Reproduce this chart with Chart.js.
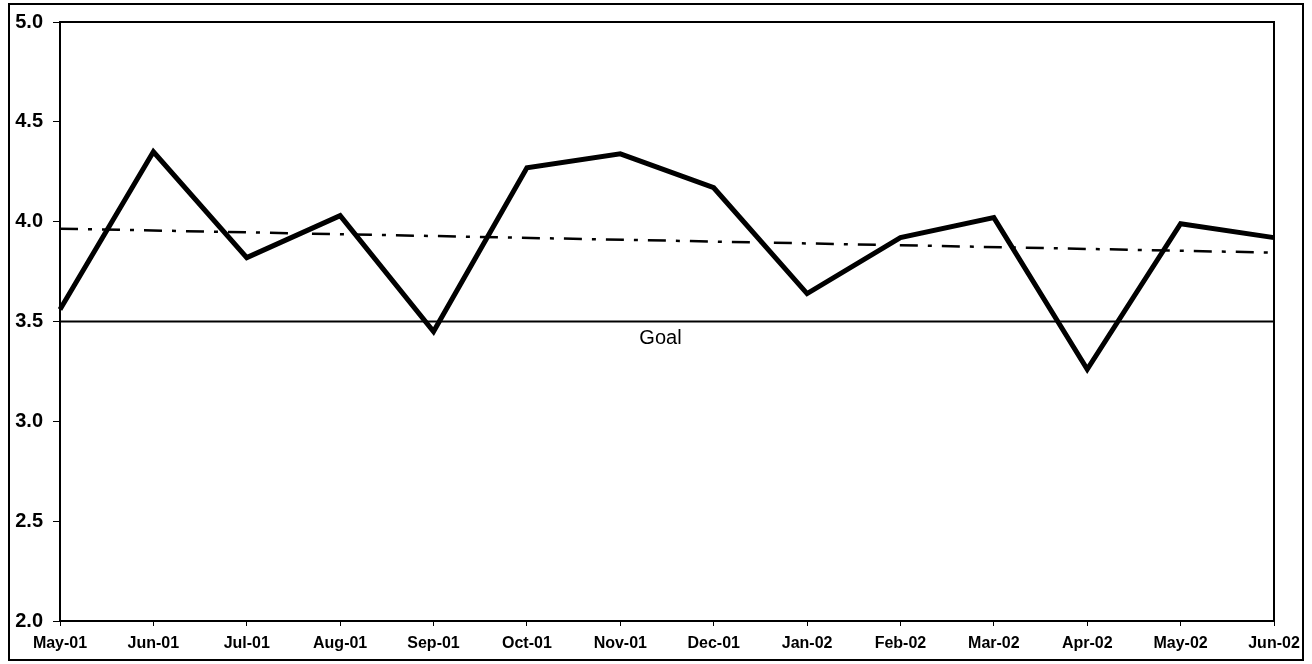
<!DOCTYPE html>
<html>
<head>
<meta charset="utf-8">
<script src="https://cdn.jsdelivr.net/npm/chart.js@4"></script>
<style>
  html, body { margin: 0; padding: 0; background: #fff; }
  canvas { display: block; }
</style>
</head>
<body>
<canvas id="goalChart" width="1312" height="664"></canvas>
<script>
// values
const months = ['May-01', 'Jun-01', 'Jul-01', 'Aug-01', 'Sep-01', 'Oct-01', 'Nov-01',
                'Dec-01', 'Jan-02', 'Feb-02', 'Mar-02', 'Apr-02', 'May-02', 'Jun-02'];
const scores = [3.56, 4.35, 3.82, 4.03, 3.45, 4.27, 4.34, 4.17, 3.64, 3.92, 4.02, 3.26, 3.99, 3.92];
// trend line: only its two ends are read, the rest is spanned
const trend = [3.965, null, null, null, null, null, null, null, null, null, null, null, null, 3.845];
const goal = [3.5, 3.5, 3.5, 3.5, 3.5, 3.5, 3.5, 3.5, 3.5, 3.5, 3.5, 3.5, 3.5, 3.5];
const yMin = 2.0;
const yMax = 5.0;
const yStep = 0.5;

const FONT = "'Liberation Sans', Arial, sans-serif";

const framePlugin = {
    id: 'frame',
    afterDraw(chart) {
        const { ctx, chartArea } = chart;
        ctx.save();
        ctx.strokeStyle = '#000';
        // plot area top and right edge
        ctx.lineWidth = 2;
        ctx.beginPath();
        ctx.moveTo(chartArea.left, chartArea.top);
        ctx.lineTo(chartArea.right, chartArea.top);
        ctx.lineTo(chartArea.right, chartArea.bottom);
        ctx.stroke();
        // outer frame of the picture
        ctx.strokeRect(9, 4, 1294, 656);

        // "Goal" caption under the goal line
        const x = chart.scales.x.getPixelForValue(6.43);
        const y = chart.scales.y.getPixelForValue(goal[0]);
        ctx.fillStyle = '#000';
        ctx.font = '20px ' + FONT;
        ctx.textAlign = 'center';
        ctx.textBaseline = 'middle';
        ctx.fillText('Goal', x, y + 17);
        ctx.restore();
    }
};

new Chart(document.getElementById('goalChart'), {
    type: 'line',
    data: {
        labels: months,
        datasets: [
            {
                label: 'Score',
                data: scores,
                borderColor: '#000',
                borderWidth: 5,
                borderJoinStyle: 'miter',
                pointRadius: 0,
                tension: 0,
                order: 1
            },
            {
                label: 'Trend',
                data: trend,
                spanGaps: true,
                borderColor: '#000',
                borderWidth: 2.5,
                borderDash: [18, 10, 4, 10],
                pointRadius: 0,
                order: 2
            },
            {
                label: 'Goal',
                data: goal,
                borderColor: '#000',
                borderWidth: 2,
                pointRadius: 0,
                order: 3
            }
        ]
    },
    options: {
        responsive: false,
        animation: false,
        layout: { padding: { top: 22, right: 38, bottom: 0, left: 0 } },
        plugins: {
            legend: { display: false },
            tooltip: { enabled: false }
        },
        scales: {
            x: {
                offset: false,
                grid: { drawOnChartArea: false, drawTicks: true, tickLength: 5, color: '#000' },
                border: { color: '#000', width: 2 },
                ticks: {
                    color: '#000',
                    font: { family: FONT, size: 16, weight: 'bold' },
                    padding: 8,
                    maxRotation: 0,
                    autoSkip: false
                },
                afterFit: s => { s.height = 43; }
            },
            y: {
                min: yMin,
                max: yMax,
                grid: { drawOnChartArea: false, drawTicks: true, tickLength: 7, color: '#000' },
                border: { color: '#000', width: 2 },
                ticks: {
                    stepSize: yStep,
                    color: '#000',
                    font: { family: FONT, size: 20, weight: 'bold' },
                    padding: 10,
                    callback: v => v.toFixed(1)
                },
                afterFit: s => { s.width = 60; }
            }
        }
    },
    plugins: [framePlugin]
});
</script>
</body>
</html>
